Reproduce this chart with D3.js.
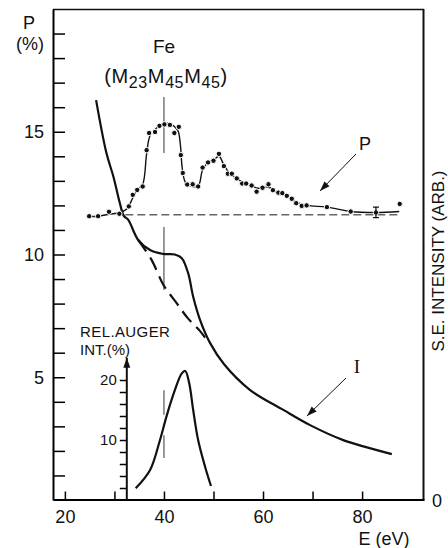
<!DOCTYPE html>
<html><head><meta charset="utf-8">
<script src="https://cdn.jsdelivr.net/npm/d3@7"></script>
<style>
body{margin:0;background:#fff}
svg{display:block}
text{font-family:"Liberation Sans",Arial,sans-serif;fill:#111}
</style>
</head><body>
<svg id="c" width="448" height="548"></svg>
<script>
// ---------- data ----------
const pointE = [24.9,26.7,28.9,31.0,32.9,33.7,34.6,35.7,36.5,37.0,38.2,39.1,40.1,41.2,42.1,43.0,43.4,43.8,44.7,45.8,46.9,47.8,48.9,50.0,51.1,52.1,52.9,53.7,54.7,55.8,56.6,57.7,58.7,59.9,61.1,62.0,63.1,63.9,64.8,65.8,66.7,67.8,68.8,72.9,77.7,82.8,87.6];
const pointP = [11.56,11.56,11.74,11.66,11.96,12.43,12.63,12.77,14.25,14.95,14.99,15.24,15.30,15.28,14.95,15.20,14.05,13.32,12.85,12.86,12.77,13.54,13.75,13.82,14.10,13.60,13.29,13.29,13.10,12.89,12.89,12.81,12.56,12.72,12.86,12.62,12.52,12.50,12.39,12.27,12.09,11.98,12.0,11.93,11.75,11.71,12.06];
const fitE = [25.0,26.7,29.0,31.0,32.5,33.7,34.6,35.7,36.5,37.2,38.5,40.0,41.5,42.8,43.3,43.7,44.3,45.2,46.9,47.8,48.9,50.0,51.1,52.1,53.3,54.7,56.2,57.7,59.0,61.0,63.0,64.8,66.5,68.8,72.9,77.7,82.8,87.5];
const fitP = [11.55,11.56,11.64,11.70,11.85,12.30,12.62,12.85,14.10,14.85,15.15,15.35,15.30,15.05,14.50,13.50,12.95,12.80,12.80,13.45,13.75,13.85,14.00,13.65,13.30,13.10,12.90,12.80,12.70,12.75,12.52,12.38,12.15,12.00,11.93,11.75,11.71,11.75];
const intE = [26.3,28.4,29.8,31.1,31.9,32.8,34.8,37.2,39.9,42.2,43.6,44.9,45.9,47.3,49.3,52.1,57.4,64.1,69.5,76.2,86.0];
const intV = [16.29,14.12,13.17,12.09,11.57,11.41,10.59,10.18,10.02,10.00,9.85,9.23,8.28,7.33,6.40,5.54,4.48,3.67,3.05,2.44,1.87];
const bgE = [34.8,37.5,39.9,42.6,44.8,47.3,48.9];
const bgV = [10.59,9.78,8.76,8.01,7.41,6.88,6.44];
const augerE = [34.3,37.2,39.2,40.5,42.2,43.6,44.3,45.1,45.9,46.9,48.3,49.5];
const augerV = [1.95,5.0,10.0,13.9,18.3,21.1,21.5,19.45,15.0,10.0,5.55,2.33];
const baselineE = [32.2, 87.8];
const baselineP = 11.62;
const errE = 82.8, errLo = 11.50, errHi = 11.93;
const markerE = 40;
const xTicks = [20,30,40,50,60,70,80];
const xLabels = [20,40,60,80];
const yTicks = d3.range(1,20);
const yLabels = [5,10,15];
const insetTicks = [2,4,6,8,10,12,14,16,18,20];
const insetLabels = [10,20];
const insetAxisE = 32.5, insetTop = 23.7;

// ---------- scales ----------
const svg = d3.select("#c");
const x = d3.scaleLinear([17.6,92.5],[53,424]);
const y = d3.scaleLinear([0,20],[500,9]);
const yi = d3.scaleLinear([0,20],[500,380]);

const defs = svg.append("defs");
defs.append("marker").attr("id","ah").attr("viewBox","0 0 10 10").attr("refX",10).attr("refY",5)
  .attr("markerWidth",10).attr("markerHeight",10).attr("markerUnits","userSpaceOnUse").attr("orient","auto")
  .append("path").attr("d","M0,1.5 L10,5 L0,8.5 Z").attr("fill","#111");

// frame
svg.append("line").attr("x1",53).attr("x2",424).attr("y1",9.5).attr("y2",9.5).attr("stroke","#111").attr("stroke-width",1.5);
svg.append("line").attr("x1",423.5).attr("x2",423.5).attr("y1",9).attr("y2",500).attr("stroke","#111").attr("stroke-width",2);

// left axis
const gl = svg.append("g").attr("transform","translate(53,0)")
  .call(d3.axisLeft(y).tickValues(yTicks).tickSize(-12).tickSizeOuter(0).tickPadding(9)
    .tickFormat(d => yLabels.includes(d) ? d : ""));
gl.select(".domain").attr("stroke-width",2);
gl.selectAll(".tick line").attr("stroke-width",1.5);
gl.selectAll("text").style("font-size","18px");

// bottom axis
const gb = svg.append("g").attr("transform","translate(0,499.5)")
  .call(d3.axisBottom(x).tickValues(xTicks).tickSize(-8).tickSizeOuter(0).tickPadding(11)
    .tickFormat(d => xLabels.includes(d) ? d : ""));
gb.select(".domain").attr("stroke-width",2);
gb.selectAll(".tick line").attr("stroke-width",1.5);
gb.selectAll("text").style("font-size","18px");

// labels
svg.append("text").attr("x",29).attr("y",29).attr("text-anchor","middle").style("font-size","18px").text("P");
svg.append("text").attr("x",30).attr("y",50).attr("text-anchor","middle").style("font-size","18px").text("(%)");
svg.append("text").attr("x",164).attr("y",53).attr("text-anchor","middle").style("font-size","19px").text("Fe");
const fe = svg.append("text").attr("x",166).attr("y",83).attr("text-anchor","middle").style("font-size","20px").style("letter-spacing","0.6px");
fe.append("tspan").text("(M");
fe.append("tspan").attr("dy",5).style("font-size","16px").text("23");
fe.append("tspan").attr("dy",-5).text("M");
fe.append("tspan").attr("dy",5).style("font-size","16px").text("45");
fe.append("tspan").attr("dy",-5).text("M");
fe.append("tspan").attr("dy",5).style("font-size","16px").text("45");
fe.append("tspan").attr("dy",-5).text(")");
svg.append("text").attr("transform","translate(444,261) rotate(-90)").attr("text-anchor","middle").style("font-size","17px").text("S.E. INTENSITY (ARB.)");
svg.append("text").attr("x",437).attr("y",507).attr("text-anchor","middle").style("font-size","18px").text("0");
svg.append("text").attr("x",384).attr("y",545).attr("text-anchor","middle").style("font-size","18px").text("E (eV)");
svg.append("text").attr("x",80).attr("y",337).style("font-size","15px").style("letter-spacing","0.4px").text("REL.AUGER");
svg.append("text").attr("x",80).attr("y",355).style("font-size","15px").text("INT.(%)");

// marker lines at E=40
const mk = [[y(16.42),y(14.13)],[y(11.12),y(8.55)],[yi(18.3),yi(14.2)],[yi(10.8),yi(7.0)]];
svg.selectAll(".mk").data(mk).join("line").attr("x1",x(markerE)).attr("x2",x(markerE))
  .attr("y1",d=>d[0]).attr("y2",d=>d[1]).attr("stroke","#555").attr("stroke-width",1.2);

// baseline dashed
svg.append("line").attr("x1",x(baselineE[0])).attr("x2",x(baselineE[1])).attr("y1",y(baselineP)).attr("y2",y(baselineP))
  .attr("stroke","#666").attr("stroke-width",1.3).attr("stroke-dasharray","8,4");

// intensity curve
const lineI = d3.line().x(d=>x(d[0])).y(d=>y(d[1])).curve(d3.curveCatmullRom.alpha(0.5));
svg.append("path").attr("d",lineI(intE.map((e,i)=>[e,intV[i]]))).attr("fill","none").attr("stroke","#111").attr("stroke-width",2.2);
svg.append("path").attr("d",lineI(bgE.map((e,i)=>[e,bgV[i]]))).attr("fill","none").attr("stroke","#111").attr("stroke-width",2.2).attr("stroke-dasharray","14,7");

// P fit + points
svg.append("path").attr("d",lineI(fitE.map((e,i)=>[e,fitP[i]]))).attr("fill","none").attr("stroke","#111").attr("stroke-width",1.4);
svg.selectAll(".pt").data(pointE.map((e,i)=>[e,pointP[i]])).join("circle")
  .attr("cx",d=>x(d[0])).attr("cy",d=>y(d[1])).attr("r",2.7).attr("fill","#111").attr("stroke","#fff").attr("stroke-width",1);
// error bar
svg.append("path").attr("d",`M${x(errE)},${y(errHi)}V${y(errLo)}M${x(errE)-3},${y(errHi)}h6M${x(errE)-3},${y(errLo)}h6`)
  .attr("stroke","#111").attr("stroke-width",1.3).attr("fill","none");

// inset axis
const gi = svg.append("g").attr("transform",`translate(${x(insetAxisE)},0)`)
  .call(d3.axisLeft(yi).tickValues(insetTicks).tickSize(7).tickSizeOuter(0).tickPadding(3)
    .tickFormat(d => insetLabels.includes(d) ? d : ""));
gi.select(".domain").remove();
gi.selectAll(".tick line").attr("stroke-width",1.5);
gi.selectAll("text").style("font-size","15px");
svg.append("line").attr("x1",x(insetAxisE)).attr("x2",x(insetAxisE)).attr("y1",500).attr("y2",yi(insetTop))
  .attr("stroke","#111").attr("stroke-width",2).attr("marker-end","url(#ah)");

// auger curve
const lineA = d3.line().x(d=>x(d[0])).y(d=>yi(d[1])).curve(d3.curveCatmullRom.alpha(0.5));
svg.append("path").attr("d",lineA(augerE.map((e,i)=>[e,augerV[i]]))).attr("fill","none").attr("stroke","#111").attr("stroke-width",2.2);

// annotation arrows
svg.append("text").attr("x",365).attr("y",150).attr("text-anchor","middle").style("font-size","18px").text("P");
svg.append("line").attr("x1",356).attr("y1",154).attr("x2",320).attr("y2",191).attr("stroke","#111").attr("stroke-width",1).attr("marker-end","url(#ah)");
svg.append("text").attr("x",357).attr("y",373).attr("text-anchor","middle").style("font-family","'Liberation Serif',serif").style("font-size","19px").text("I");
svg.append("line").attr("x1",346).attr("y1",378).attr("x2",307).attr("y2",416).attr("stroke","#111").attr("stroke-width",1).attr("marker-end","url(#ah)");
</script>
</body></html>
